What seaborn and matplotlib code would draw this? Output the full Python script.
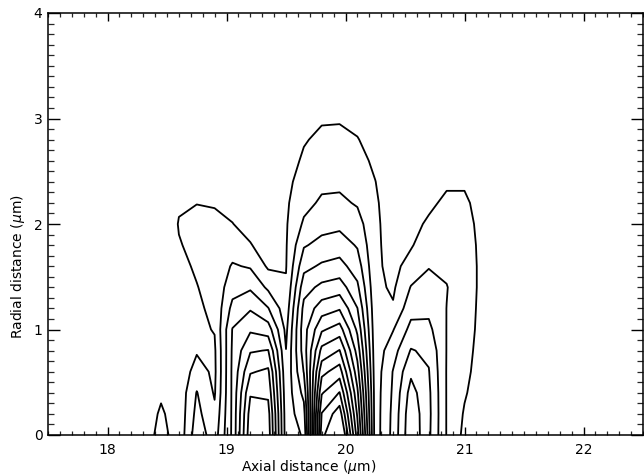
import numpy as np
import matplotlib
matplotlib.use("Agg")
import matplotlib.pyplot as plt
from matplotlib.ticker import MultipleLocator
import seaborn as sns

# ---- grid of the field (in contour-level units) ----
axial_nodes = [18.30, 18.45, 18.60, 18.75, 18.90, 19.05, 19.20, 19.35, 19.50,
               19.65, 19.80, 19.95, 20.10, 20.25, 20.40, 20.55, 20.70, 20.85,
               21.00, 21.15, 21.30]
radial_nodes = [0.0, 0.2, 0.4, 0.6, 0.8, 1.0, 1.2, 1.4, 1.6, 1.8, 2.0, 2.2,
                2.4, 2.6, 2.8, 3.0, 3.2]
contour_levels = [1, 2, 3, 4, 5, 6, 7, 8, 9, 10, 11, 12, 13, 14]

# one radial profile per axial node (values at radial_nodes)
prof_1830 = [0.2, 0.15, 0.1, 0.1, 0.1, 0.1, 0.1, 0.1, 0.1, 0.1, 0.1, 0.05, 0.05, 0.05, 0.0, 0.0, 0.0]
prof_1845 = [1.5, 1.2, 0.8, 0.5, 0.35, 0.3, 0.3, 0.3, 0.3, 0.3, 0.25, 0.2, 0.15, 0.1, 0.05, 0.05, 0.0]
prof_1860 = [0.3, 0.3, 0.3, 0.3, 0.4, 0.5, 0.6, 0.7, 0.8, 0.95, 1.05, 0.9, 0.6, 0.4, 0.3, 0.2, 0.1]
prof_1875 = [2.6, 2.3, 2.05, 1.4, 0.9, 0.8, 0.85, 0.97, 1.1, 1.2, 1.25, 0.98, 0.7, 0.5, 0.35, 0.2, 0.1]
prof_1890 = [1.5, 1.2, 0.9, 0.8, 0.85, 1.05, 1.2, 1.3, 1.3, 1.25, 1.15, 0.95, 0.7, 0.5, 0.35, 0.2, 0.1]
prof_1905 = [4.2, 4.2, 4.2, 4.2, 4.15, 4.05, 3.3, 2.6, 2.1, 1.5, 1.02, 0.75, 0.5, 0.35, 0.2, 0.1, 0.05]
prof_1920 = [8.7, 8.45, 7.9, 6.9, 5.9, 4.85, 3.9, 2.85, 1.9, 1.05, 0.7, 0.5, 0.35, 0.25, 0.15, 0.1, 0.05]
prof_1935 = [8.6, 8.4, 7.8, 7.2, 6.05, 4.5, 3.05, 1.8, 0.85, 0.6, 0.45, 0.35, 0.25, 0.2, 0.1, 0.05, 0.0]
prof_1950 = [2.5, 2.45, 2.35, 2.2, 2.02, 1.75, 1.4, 1.1, 0.95, 0.92, 0.9, 0.85, 0.75, 0.55, 0.35, 0.2, 0.1]
prof_1965 = [3.1, 3.6, 4.3, 5.05, 5.5, 5.6, 5.3, 4.6, 3.7, 2.9, 2.15, 1.7, 1.4, 1.15, 0.92, 0.6, 0.3]
prof_1980 = [13.6, 13.05, 11.9, 10.7, 9.3, 7.85, 6.5, 5.25, 4.15, 3.3, 2.65, 2.15, 1.78, 1.48, 1.2, 0.9, 0.45]
prof_1995 = [16.0, 14.6, 13.05, 11.5, 10.05, 8.45, 6.9, 5.5, 4.35, 3.5, 2.75, 2.2, 1.8, 1.5, 1.22, 0.92, 0.5]
prof_2010 = [9.5, 8.85, 8.2, 7.4, 6.6, 5.8, 5.02, 4.2, 3.5, 2.9, 2.4, 1.9, 1.6, 1.35, 1.05, 0.7, 0.4]
prof_2025 = [1.5, 1.5, 1.5, 1.45, 1.4, 1.35, 1.3, 1.25, 1.2, 1.2, 1.2, 1.15, 1.02, 0.8, 0.55, 0.35, 0.2]
prof_2040 = [3.3, 3.25, 3.15, 3.05, 2.6, 1.95, 1.1, 0.85, 0.7, 0.6, 0.5, 0.4, 0.3, 0.2, 0.15, 0.1, 0.05]
prof_2055 = [5.8, 5.7, 5.4, 4.8, 4.07, 3.3, 2.65, 2.05, 1.4, 0.9, 0.7, 0.5, 0.35, 0.25, 0.15, 0.1, 0.05]
prof_2070 = [4.2, 4.25, 4.2, 4.05, 3.8, 3.25, 2.75, 2.35, 1.95, 1.6, 1.15, 0.8, 0.55, 0.35, 0.2, 0.1, 0.05]
prof_2085 = [1.95, 1.95, 1.95, 1.95, 1.97, 1.98, 1.99, 2.03, 1.85, 1.7, 1.5, 1.2, 0.85, 0.55, 0.35, 0.2, 0.1]
prof_2100 = [0.75, 0.9, 1.1, 1.25, 1.35, 1.45, 1.5, 1.55, 1.55, 1.5, 1.4, 1.2, 0.85, 0.55, 0.35, 0.2, 0.1]
prof_2115 = [0.3, 0.35, 0.45, 0.55, 0.62, 0.68, 0.72, 0.75, 0.75, 0.72, 0.65, 0.55, 0.4, 0.3, 0.2, 0.1, 0.05]
prof_2130 = [0.1, 0.1, 0.1, 0.1, 0.1, 0.1, 0.1, 0.1, 0.1, 0.1, 0.1, 0.1, 0.1, 0.05, 0.05, 0.0, 0.0]

profiles = [prof_1830, prof_1845, prof_1860, prof_1875, prof_1890, prof_1905,
            prof_1920, prof_1935, prof_1950, prof_1965, prof_1980, prof_1995,
            prof_2010, prof_2025, prof_2040, prof_2055, prof_2070, prof_2085,
            prof_2100, prof_2115, prof_2130]
field = np.column_stack(profiles)

x_label = r"Axial distance ($\mu$m)"
y_label = r"Radial distance ($\mu$m)"

# ---- style ----
sns.set_style("ticks")
plt.rcParams["font.family"] = ["DejaVu Sans"]
plt.rcParams["mathtext.fontset"] = "dejavusans"

fig = plt.figure(figsize=(6.44, 4.76), dpi=100)
ax = fig.add_axes([48 / 644, 41 / 476, 595 / 644, 422 / 476])

ax.contour(axial_nodes, radial_nodes, field, levels=contour_levels,
           colors="black", linewidths=1.3)

ax.set_xlim(17.5, 22.5)
ax.set_ylim(0, 4.0)
ax.xaxis.set_major_locator(MultipleLocator(1))
ax.xaxis.set_minor_locator(MultipleLocator(0.1))
ax.yaxis.set_major_locator(MultipleLocator(1))
ax.yaxis.set_minor_locator(MultipleLocator(0.1))

for s in ax.spines.values():
    s.set_visible(True)
    s.set_linewidth(1.1)
    s.set_color("black")

ax.tick_params(axis="x", which="major", direction="in", length=6, width=1.0,
               top=True, bottom=True, labelsize=10, pad=6, colors="black")
ax.tick_params(axis="x", which="minor", direction="in", length=3, width=0.9,
               top=True, bottom=True)
ax.tick_params(axis="y", which="major", direction="in", length=8.5, width=1.0,
               left=True, right=True, labelsize=10, pad=4, colors="black")
ax.tick_params(axis="y", which="minor", direction="in", length=4.3, width=0.9,
               left=True, right=True)

ax.set_xlabel(x_label, fontsize=10, color="black")
ax.set_ylabel(y_label, fontsize=10, color="black")
ax.xaxis.set_label_coords(0.439, -0.054)
ax.yaxis.set_label_coords(-0.035, 0.398)

fig.savefig("out.png", dpi=100)
